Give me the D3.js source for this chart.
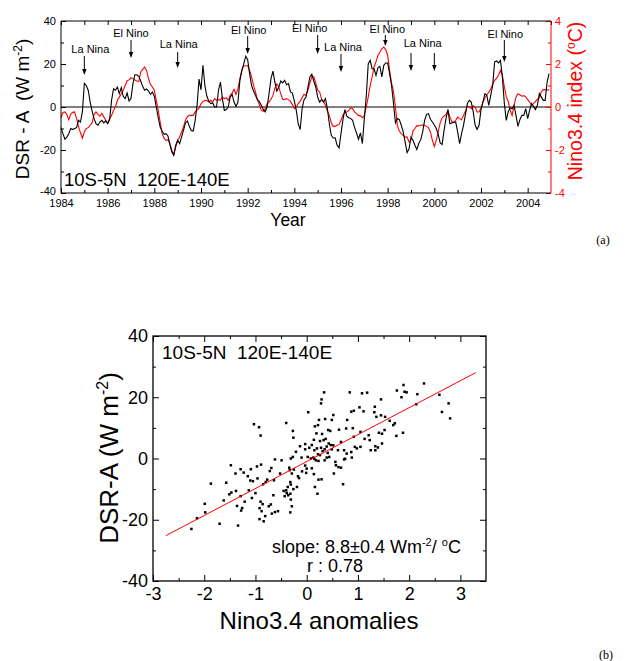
<!DOCTYPE html>
<html>
<head>
<meta charset="utf-8">
<script src="https://cdn.jsdelivr.net/npm/d3@7"></script>
<style>
  body { margin: 0; background: #fff; }
  svg { display: block; font-family: Arial, "Liberation Sans", sans-serif; }
  text { white-space: pre; }
</style>
</head>
<body>
<svg id="fig" width="630" height="661"></svg>
<script>
// monthly series, Jan 1984 .. Dec 2004
const startYear = 1984;
const dsrAnomaly = [
  -9.6, -12.4, -15, -14, -12.4, -10, -10.5, -10, -9.6, -6.2, -7, -2.3,
  11, 10, 7.8, 2.3, -1.9, -5.4, -7.8, -8.5, -7, -6.2, -7.4, -6.5,
  -7.8, -5.9, 3.1, 8.5, 7.8, 9.3, 6.2, 9, 5, 3.9, 6.5, 2.8,
  3.9, 10.9, 15, 15, 14.3, 12.1, 9.6, 7.8, 8.4, 7.4, 5.9, 7,
  5, 0, -5, -9.3, -11.2, -12.7, -12.4, -13.5, -17.4, -20.9, -22.5, -17.8,
  -15.5, -17, -14, -10.9, -7.4, -6.5, -9, -10.9, -11.2, -6.2, 1, 13,
  8, 19.4, 10, 5, 2.8, 1.6, 1.9, 0, 0, 7.8, 11.6, 3.9,
  -1.6, -1.2, 0, 4.6, 5.9, 2.3, 0.3, 2.3, 12.4, 16.7, 20.2, 23.6,
  22, 15.5, 10, 7.4, 5.4, 3.4, 2.5, 0.8, -1.1, -2.3, 0, 6.2,
  13.2, 16.7, 11.6, 7.4, 9.3, 12.1, 11.2, 12.4, 10.4, 10.9, 7, 6.5,
  2.8, -1.6, -7.8, -10.5, -0.8, 3.4, 4.6, 9.3, 14, 15.2, 12.1, 9.3,
  4.6, 2.3, 3.4, 2.3, 3.9, -0.8, -7.8, -13.2, -14.4, -14.3, -17.8, -19,
  -12.4, -5.9, -1.2, -4.3, -5, -5.4, -6.2, -9.6, -12.1, -15, -12, -17,
  -5.4, 5, 20, 21.7, 17.8, 17.8, 14.7, 18.3, 18.9, 14, 19.4, 20.5,
  20.5, 15.5, 10, 1.6, -7.4, -5.4, -5.9, -8.5, -11.6, -16.3, -21.2, -19.4,
  -14, -15.5, -17.8, -19.8, -17, -15.2, -11.6, -6.2, -3.4, -3.1, -5.7, -7,
  -8.4, -10, -12.7, -16.7, -17.4, -10.9, -5.4, -1.2, -7.8, -7.4, -7, -7,
  -11.6, -17, -12.4, -8.5, -3.4, 1.6, 3.1, 2.3, -2.3, -8.5, -10.4, -8.5,
  -1.2, 2.3, 6.2, 5.4, 0.8, 5.4, 10, 21, 21.4, 20.5, 21.7, 14,
  1.6, -6.2, -2.3, -0.3, -0.8, 0.8, -3.9, -9, -5.9, -3.9, -3.9, -0.8,
  -5.4, -1.6, 1.6, 0.3, -1.2, 0.8, 6.2, 4.7, 3.1, 3.1, 11.6, 15.5
];
const nino34 = [
  -0.5, -0.25, -0.23, -0.35, -0.6, -0.33, -0.25, -0.23, -0.54, -0.9, -1.2, -1.45,
  -1.15, -1.0, -0.96, -0.85, -0.74, -0.35, -0.23, -0.34, -0.43, -0.3, -0.46, -0.62,
  -0.76, -0.54, -0.39, -0.16, 0, 0.31, 0.46, 0.62, 0.78, 1.0, 1.22, 1.26,
  1.36, 1.32, 1.26, 1.21, 1.18, 1.63, 1.75, 1.86, 1.7, 1.32, 1.05, 0.93,
  0.78, 0.31, -0.16, -0.7, -1.24, -1.45, -1.55, -1.52, -1.7, -2.02, -2.2, -1.86,
  -1.55, -1.4, -1.16, -0.93, -0.62, -0.45, -0.39, -0.39, -0.39, -0.23, -0.15, -0.05,
  0.15, 0.25, 0.31, 0.3, 0.23, 0.31, 0.23, 0.39, 0.31, 0.35, 0.31, 0.46,
  0.39, 0.43, 0.31, 0.54, 0.65, 0.82, 0.59, 0.85, 1.32, 1.74, 1.91, 1.92,
  1.92, 1.7, 1.4, 1.02, 0.7, 0.34, 0.11, -0.16, -0.2, -0.08, 0.16, 0.23,
  0.36, 0.54, 0.88, 1.07, 0.93, 0.62, 0.36, 0.34, 0.39, 0.33, 0.26, 0.11,
  -0.08, 0, 0.16, 0.26, 0.43, 0.59, 0.54, 0.78, 1.13, 1.4, 1.4, 1.12,
  0.78, 0.7, 0.37, 0.26, 0.08, -0.19, -0.39, -0.73, -0.9, -0.9, -0.85, -0.81,
  -0.62, -0.36, -0.25, -0.23, -0.16, -0.03, -0.08, -0.23, -0.31, -0.39, -0.4, -0.51,
  -0.39, 0, 0.46, 1.0, 1.4, 1.86, 2.1, 2.4, 2.56, 2.71, 2.79, 2.67,
  2.4, 1.7, 1.12, 0.7, 0, -0.85, -1.13, -1.24, -1.32, -1.4, -1.4, -1.63,
  -1.55, -1.12, -1.0, -0.87, -0.88, -0.85, -0.84, -0.85, -0.9, -0.96, -1.16, -1.55,
  -1.83, -1.55, -1.16, -0.74, -0.51, -0.42, -0.36, -0.16, -0.47, -0.68, -0.73, -0.62,
  -0.47, -0.54, -0.59, -0.39, -0.19, 0.03, 0, -0.08, 0.06, 0, -0.23, -0.23,
  -0.05, 0.23, 0.42, 0.57, 0.68, 0.85, 1.05, 1.24, 1.33, 1.49, 1.7, 1.47,
  0.93, 0.47, 0.26, -0.15, -0.39, 0.08, 0.47, 0.62, 0.57, 0.5, 0.53, 0.47,
  0.34, 0.23, 0.08, 0.16, 0.25, 0.36, 0.43, 0.7, 0.81, 0.81, 0.78, 0.81
];

// ENSO event markers on panel (a)
const enso = [
  { label: 'La Nina', years: [1985] },
  { label: 'El Nino', years: [1987] },
  { label: 'La Nina', years: [1989] },
  { label: 'El Nino', years: [1992] },
  { label: 'El Nino', years: [1995] },
  { label: 'La Nina', years: [1996] },
  { label: 'El Nino', years: [1997.9] },
  { label: 'La Nina', years: [1999, 2000] },
  { label: 'El Nino', years: [2003] }
];
// label offset / text y / arrow top / arrow tip (px), one per event
const ensoLayout = [
  [6, 53, 56, 75], [0, 37, 40, 58], [1, 48, 52, 68], [1, 34, 36, 54], [-8, 32, 35, 54],
  [2, 51, 54, 72], [2, 33, 35, 46], [0, 47, 53, 71], [1, 38, 40, 62]
];

// panel (b): monthly Nino3.4 anomaly vs DSR-A
const scatterPoints = [
  [-1.03,11.2],[-0.93,10.2],[-0.90,7.5],[-1.48,-2.2],[-1.29,-3.5],[-1.09,-3.5],[-0.97,-2.6],[-0.89,-2.0],
  [-1.39,-4.9],[-1.23,-4.6],[-1.15,-5.8],[-1.05,-7.4],[-0.96,-6.5],[-1.10,-7.2],[-1.87,-8.2],[-1.57,-7.9],
  [-1.47,-11.1],[-1.51,-11.7],[-1.38,-10.6],[-1.29,-12.3],[-1.13,-10.4],[-1.00,-11.3],[-0.85,-8.4],[-1.62,-13.7],
  [-1.21,-14.1],[-1.36,-15.5],[-1.26,-16.2],[-1.28,-17.0],[-1.07,-12.9],[-0.90,-14.1],[-0.86,-14.9],[-0.92,-16.2],
  [-0.88,-17.2],[-0.81,-18.8],[-0.92,-19.8],[-0.84,-20.5],[-1.99,-14.8],[-1.98,-17.6],[-2.14,-19.5],[-2.25,-23.0],
  [-1.70,-21.3],[-1.34,-21.9],
  [0.34,21.6],[0.29,19.3],[0.28,18.0],[0.84,21.6],[1.08,21.3],[1.18,21.5],[0.03,15.1],[-0.40,11.6],
  [-0.27,9.0],[-0.26,6.8],[0.24,12.6],[0.22,10.9],[0.36,12.9],[0.52,14.2],[0.49,12.6],[0.42,9.3],
  [0.46,9.0],[0.63,9.4],[0.79,12.6],[0.77,9.8],[0.90,9.9],[0.87,15.3],[0.92,15.6],[1.03,16.7],
  [1.11,15.4],[1.05,8.7],[0.92,7.1],[1.33,16.9],[1.32,15.1],[1.36,13.6],[0.16,10.5],[0.19,8.2],
  [0.30,8.0],[0.26,5.7],[0.33,6.0],[0.37,6.4],[0.14,6.1],[0.10,4.4],[-0.03,4.7],[-0.13,4.0],
  [-0.03,3.0],[0.05,3.5],[0.15,2.7],[0.20,3.3],[0.22,1.4],[0.28,3.5],[0.31,2.4],[0.35,3.0],
  [0.39,3.9],[0.43,4.9],[0.47,4.4],[0.52,4.3],[0.49,3.0],[0.41,1.8],[0.26,1.1],[0.13,0.3],
  [0.15,-0.1],[0.18,-0.6],[0.23,-0.8],[0.35,-0.6],[0.39,0.3],[0.44,0.5],[0.61,2.7],[0.67,5.4],
  [0.73,2.7],[0.75,-0.1],[0.78,1.6],[0.88,0.3],[0.87,2.1],[0.94,3.8],[0.98,3.3],[1.05,3.8],
  [1.13,6.4],[1.21,7.6],[1.23,6.0],[1.25,2.7],[1.34,2.7],[1.34,4.0],[0.56,-1.1],[0.57,-2.2],
  [0.62,-2.8],[0.67,-3.0],[0.53,-4.9],[0.73,-0.3],[-0.21,2.2],[-0.27,0.5],[-0.31,0.0],[-0.10,0.3],
  [0.02,0.5],[0.08,0.0],[-0.03,-2.3],[0.00,-3.3],[-0.09,-4.2],[-0.17,-5.8],[-0.15,-6.4],[-0.01,-4.7],
  [0.10,-3.2],[0.14,-5.1],[0.23,-6.9],[0.29,-6.8],[0.16,-9.3],[0.21,-11.5],[0.71,-8.4],[-0.49,-0.6],
  [-0.62,-0.3],[-0.69,-3.1],[-0.72,-4.1],[-0.52,-4.9],[-0.34,-3.0],[-0.33,-3.8],[-0.25,-3.6],[-0.29,-4.9],
  [-0.77,-6.9],[-0.80,-7.7],[-0.64,-7.1],[-0.65,-12.0],[-0.37,-9.3],[-0.32,-7.7],[-0.31,-8.5],[-0.26,-10.0],
  [-0.40,-10.4],[-0.45,-10.6],[-0.39,-11.3],[-0.36,-12.0],[-0.32,-11.5],[-0.43,-12.3],[-0.19,-9.3],[-0.31,-13.4],
  [-0.29,-15.6],[-0.32,-17.6],[-0.56,-17.2],[-0.62,-17.5],[-0.70,-15.0],[-0.74,-15.6],[-0.68,-18.0],
  [1.76,22.2],[1.89,24.0],[1.91,21.8],[1.95,21.6],[1.85,20.0],[2.29,24.5],[2.16,21.0],[2.14,17.7],
  [2.59,20.8],[2.77,18.0],[2.64,15.2],[2.80,13.1],[1.45,19.3],[1.45,14.1],[1.53,13.6],[1.62,12.3],
  [1.72,11.5],[1.69,10.9],[1.75,7.4],[1.88,8.4],[1.52,9.3],[1.41,8.4],[1.47,8.1],[1.39,3.6],[1.47,4.9]
];
const fitSlope = 8.8;
const fitIntercept = -1.0;
const fitRange = [-2.75, 3.3];

const xTicksA = d3.range(1984, 2005, 2);
const yTicksA = [-40, -20, 0, 20, 40];
const rTicksA = [-4, -2, 0, 2, 4];
const xTicksB = [-3, -2, -1, 0, 1, 2, 3];
const yTicksB = [-40, -20, 0, 20, 40];

const RED = '#ff0000';
const svg = d3.select('#fig');
const fmt = d => String(d);

function inward(g, axis, color) {
  g.call(axis);
  g.select('.domain').remove();
  g.selectAll('line').attr('stroke', color || '#000');
  g.selectAll('text').attr('fill', color || '#000').attr('font-family', null);
  return g;
}

// ================= panel (a) =================
const A = { left: 61, right: 551, top: 21, bottom: 193 };
const xA = d3.scaleLinear().domain([1984, 2005]).range([A.left, A.right]);
const yA = d3.scaleLinear().domain([-40, 40]).range([A.bottom, A.top]);
const rA = d3.scaleLinear().domain([-4, 4]).range([A.bottom, A.top]);
const gA = svg.append('g').attr('class', 'panel-a');

const monthX = i => xA(startYear + i / 12);

// zero reference line
gA.append('line')
  .attr('x1', A.left).attr('x2', A.right)
  .attr('y1', yA(0)).attr('y2', yA(0))
  .attr('stroke', '#000').attr('stroke-width', 1);

gA.append('path')
  .datum(nino34)
  .attr('fill', 'none').attr('stroke', RED).attr('stroke-width', 1.1)
  .attr('d', d3.line().x((d, i) => monthX(i)).y(d => rA(d)));

gA.append('path')
  .datum(dsrAnomaly)
  .attr('fill', 'none').attr('stroke', '#000').attr('stroke-width', 1.1)
  .attr('d', d3.line().x((d, i) => monthX(i)).y(d => yA(d)));

// axes
inward(gA.append('g').attr('transform', `translate(0,${A.bottom})`),
  d3.axisBottom(xA).tickValues(xTicksA).tickFormat(fmt).tickSize(-5).tickPadding(6))
  .attr('font-size', 11);
inward(gA.append('g').attr('transform', `translate(0,${A.bottom})`),
  d3.axisBottom(xA).tickValues(d3.range(1985, 2005, 2)).tickFormat('').tickSize(-3));
inward(gA.append('g').attr('transform', `translate(0,${A.top})`),
  d3.axisTop(xA).tickValues(d3.range(1984, 2006, 1)).tickFormat('').tickSize(-4));
const leftA = inward(gA.append('g').attr('transform', `translate(${A.left},0)`),
  d3.axisLeft(yA).tickValues(yTicksA).tickFormat(fmt).tickSize(-5).tickPadding(5))
  .attr('font-size', 11);
// bottom label sits just above the year labels
leftA.selectAll('text').filter(d => d === -40).attr('dy', '0.1em');
inward(gA.append('g').attr('transform', `translate(${A.left},0)`),
  d3.axisLeft(yA).tickValues([-30, -10, 10, 30]).tickFormat('').tickSize(-3));
inward(gA.append('g').attr('transform', `translate(${A.right},0)`),
  d3.axisRight(rA).tickValues(rTicksA).tickFormat(fmt).tickSize(-5).tickPadding(4), RED)
  .attr('font-size', 11);
inward(gA.append('g').attr('transform', `translate(${A.right},0)`),
  d3.axisRight(rA).tickValues([-3, -1, 1, 3]).tickFormat('').tickSize(-3), RED);

// frame
gA.append('path')
  .attr('d', `M${A.right},${A.top}H${A.left}V${A.bottom}H${A.right}`)
  .attr('fill', 'none').attr('stroke', '#000');
gA.append('line')
  .attr('x1', A.right).attr('x2', A.right).attr('y1', A.top).attr('y2', A.bottom)
  .attr('stroke', RED);

// ENSO annotations
const ev = gA.append('g').attr('font-size', 11);
enso.forEach((e, k) => {
  const [dx, ty, y0, y1] = ensoLayout[k];
  const xs = e.years.map(xA);
  ev.append('text')
    .attr('x', d3.mean(xs) + dx).attr('y', ty)
    .attr('text-anchor', 'middle').text(e.label);
  xs.forEach(x => {
    ev.append('line').attr('x1', x).attr('x2', x).attr('y1', y0).attr('y2', y1 - 5)
      .attr('stroke', '#000').attr('stroke-width', 1);
    ev.append('path')
      .attr('d', `M${x - 2.2},${y1 - 6}L${x + 2.2},${y1 - 6}L${x},${y1}Z`)
      .attr('fill', '#000');
  });
});

gA.append('text').attr('x', 64).attr('y', 186).attr('font-size', 18.5)
  .text('10S-5N  120E-140E');

gA.append('text').attr('x', 288).attr('y', 225.5).attr('font-size', 17.5)
  .attr('text-anchor', 'middle').text('Year');

const tl = gA.append('text')
  .attr('transform', 'translate(29,109) rotate(-90)')
  .attr('text-anchor', 'middle').attr('font-size', 19);
tl.append('tspan').text('DSR - A  (W m');
tl.append('tspan').attr('dy', -7).attr('font-size', 12).text('-2');
tl.append('tspan').attr('dy', 7).text(')');

const tr = gA.append('text')
  .attr('transform', 'translate(582,101) rotate(-90)')
  .attr('text-anchor', 'middle').attr('font-size', 19.5).attr('fill', RED);
tr.append('tspan').text('Nino3.4 index (');
tr.append('tspan').attr('dy', -7).attr('font-size', 12).text('o');
tr.append('tspan').attr('dy', 7).text('C)');

svg.append('text').attr('x', 603).attr('y', 244).attr('font-size', 12)
  .attr('font-family', '"Liberation Serif", "Times New Roman", serif')
  .attr('text-anchor', 'middle').text('(a)');

// ================= panel (b) =================
const B = { left: 153, right: 486, top: 336, bottom: 581 };
const xB = d3.scaleLinear().domain([-3, 3.5]).range([B.left, B.right]);
const yB = d3.scaleLinear().domain([-40, 40]).range([B.bottom, B.top]);
const gB = svg.append('g').attr('class', 'panel-b');

inward(gB.append('g').attr('transform', `translate(0,${B.bottom})`),
  d3.axisBottom(xB).tickValues(xTicksB).tickFormat(fmt).tickSize(-6).tickPadding(6))
  .attr('font-size', 18);
inward(gB.append('g').attr('transform', `translate(0,${B.bottom})`),
  d3.axisBottom(xB).tickValues(d3.range(-2.5, 3.5, 1)).tickFormat('').tickSize(-3));
inward(gB.append('g').attr('transform', `translate(0,${B.top})`),
  d3.axisTop(xB).tickValues(xTicksB).tickFormat('').tickSize(-6));
inward(gB.append('g').attr('transform', `translate(0,${B.top})`),
  d3.axisTop(xB).tickValues(d3.range(-2.5, 3.5, 1)).tickFormat('').tickSize(-3));
inward(gB.append('g').attr('transform', `translate(${B.left},0)`),
  d3.axisLeft(yB).tickValues(yTicksB).tickFormat(fmt).tickSize(-6).tickPadding(5))
  .attr('font-size', 18);
inward(gB.append('g').attr('transform', `translate(${B.left},0)`),
  d3.axisLeft(yB).tickValues([-30, -10, 10, 30]).tickFormat('').tickSize(-3));
inward(gB.append('g').attr('transform', `translate(${B.right},0)`),
  d3.axisRight(yB).tickValues(yTicksB).tickFormat('').tickSize(-6));
inward(gB.append('g').attr('transform', `translate(${B.right},0)`),
  d3.axisRight(yB).tickValues([-30, -10, 10, 30]).tickFormat('').tickSize(-3));

gB.append('rect')
  .attr('x', B.left).attr('y', B.top)
  .attr('width', B.right - B.left).attr('height', B.bottom - B.top)
  .attr('fill', 'none').attr('stroke', '#000').attr('stroke-width', 1.3);

gB.append('g').selectAll('rect').data(scatterPoints).join('rect')
  .attr('x', d => xB(d[0]) - 1.25).attr('y', d => yB(d[1]) - 1.25)
  .attr('width', 2.5).attr('height', 2.5).attr('fill', '#000');

gB.append('line')
  .attr('x1', xB(fitRange[0])).attr('y1', yB(fitIntercept + fitSlope * fitRange[0]))
  .attr('x2', xB(fitRange[1])).attr('y2', yB(fitIntercept + fitSlope * fitRange[1]))
  .attr('stroke', RED).attr('stroke-width', 1);

gB.append('text').attr('x', 162).attr('y', 359).attr('font-size', 19)
  .text('10S-5N  120E-140E');

const sl = gB.append('text').attr('x', 272).attr('y', 553).attr('font-size', 18);
sl.append('tspan').text('slope: 8.8\u00b10.4 Wm');
sl.append('tspan').attr('dy', -7).attr('font-size', 11).text('-2');
sl.append('tspan').attr('dy', 7).text('/ ');
sl.append('tspan').attr('dy', -7).attr('font-size', 11).text('o');
sl.append('tspan').attr('dy', 7).text('C');
gB.append('text').attr('x', 307).attr('y', 572).attr('font-size', 18).text('r : 0.78');

gB.append('text').attr('x', 319).attr('y', 629).attr('font-size', 24)
  .attr('text-anchor', 'middle').text('Nino3.4 anomalies');

const bl = gB.append('text')
  .attr('transform', 'translate(118,458) rotate(-90)')
  .attr('text-anchor', 'middle').attr('font-size', 26);
bl.append('tspan').text('DSR-A (W m');
bl.append('tspan').attr('dy', -10).attr('font-size', 16).text('-2');
bl.append('tspan').attr('dy', 10).text(')');

svg.append('text').attr('x', 606).attr('y', 659).attr('font-size', 12)
  .attr('font-family', '"Liberation Serif", "Times New Roman", serif')
  .attr('text-anchor', 'middle').text('(b)');
</script>
</body>
</html>
